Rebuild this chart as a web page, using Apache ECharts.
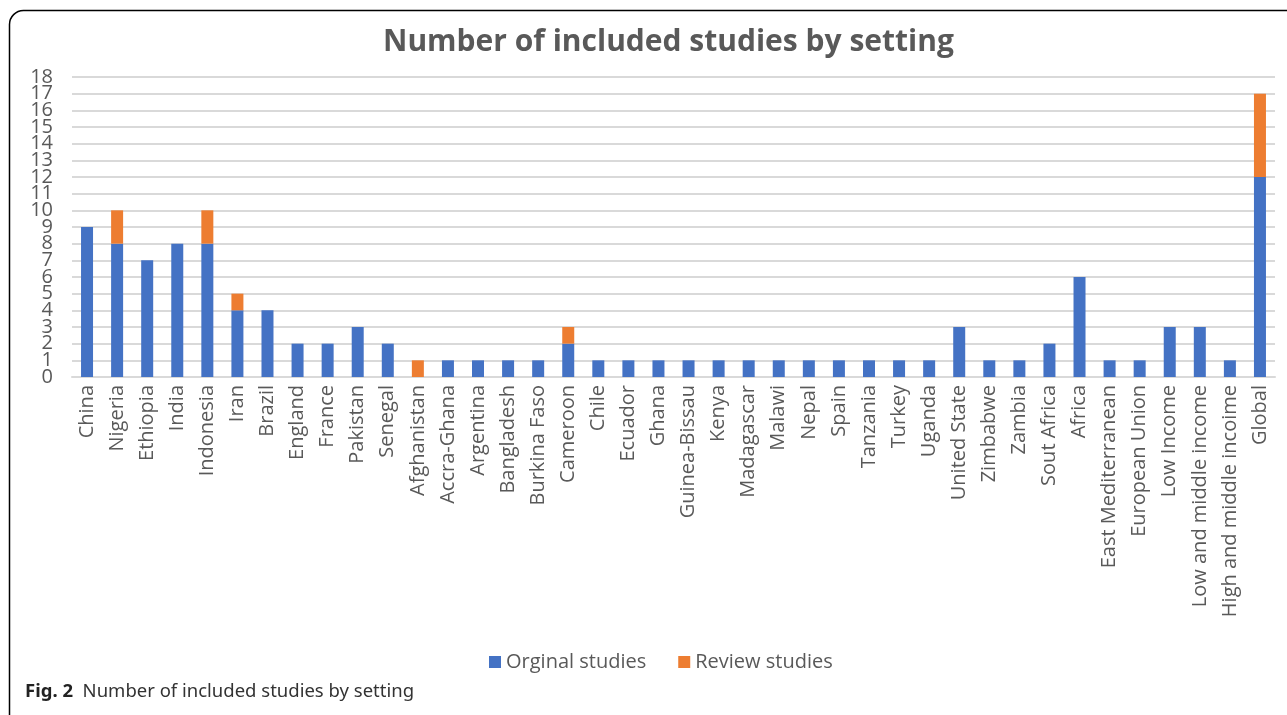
<!DOCTYPE html>
<html>
<head>
<meta charset="utf-8">
<script src="https://cdn.jsdelivr.net/npm/echarts@6/dist/echarts.min.js"></script>
<style>
  html, body { margin: 0; padding: 0; background: #fff; }
  #chart { width: 1287px; height: 715px; }
</style>
</head>
<body>
<div id="chart"></div>
<script>
// ============================================================================
// Data
// ============================================================================

const settings = [
    'China', 'Nigeria', 'Ethiopia', 'India', 'Indonesia', 'Iran', 'Brazil', 'England',
    'France', 'Pakistan', 'Senegal', 'Afghanistan', 'Accra-Ghana', 'Argentina',
    'Bangladesh', 'Burkina Faso', 'Cameroon', 'Chile', 'Ecuador', 'Ghana',
    'Guinea-Bissau', 'Kenya', 'Madagascar', 'Malawi', 'Nepal', 'Spain', 'Tanzania',
    'Turkey', 'Uganda', 'United State', 'Zimbabwe', 'Zambia', 'Sout Africa', 'Africa',
    'East Mediterranean', 'European Union', 'Low Income', 'Low and middle income',
    'High and middle incoime', 'Global'
]
const originalStudies = [
    9, 8, 7, 8, 8, 4, 4, 2, 2, 3, 2, 0, 1, 1, 1, 1, 2, 1, 1, 1,
    1, 1, 1, 1, 1, 1, 1, 1, 1, 3, 1, 1, 2, 6, 1, 1, 3, 3, 1, 12
]
const reviewStudies = [
    0, 2, 0, 0, 2, 1, 0, 0, 0, 0, 0, 1, 0, 0, 0, 0, 1, 0, 0, 0,
    0, 0, 0, 0, 0, 0, 0, 0, 0, 0, 0, 0, 0, 0, 0, 0, 0, 0, 0, 5
]

// ============================================================================
// Chart
// ============================================================================

const textColor = '#595959'
const fontFamily = '"Open Sans", "Noto Sans", sans-serif'

// labels are packed tighter than their height, so even and odd ticks
// go on two stacked axes to stop echarts from hiding the overlapping ones
function _valueAxis(parity, showSplit) {
    return {
        type: 'value',
        min: 0,
        max: 18,
        interval: 1,
        position: 'left',
        axisLine: {show: false},
        axisTick: {show: false},
        splitLine: {show: showSplit, lineStyle: {color: '#d9d9d9', width: 2}},
        axisLabel: {
            margin: 19,
            fontSize: 20,
            color: textColor,
            fontFamily: fontFamily,
            showMinLabel: true,
            showMaxLabel: true,
            formatter: v => (v % 2 === parity ? String(v) : '')
        }
    }
}

var chart = echarts.init(document.getElementById('chart'))
var option = {
    animation: false,
    textStyle: {fontFamily: fontFamily},
    title: {
        text: 'Number of included studies by setting',
        left: 378,
        top: 22,
        textStyle: {fontSize: 30, fontWeight: 'bold', color: textColor, fontFamily: fontFamily}
    },
    legend: {
        data: ['Orginal studies', 'Review studies'],
        bottom: 38,
        left: 484,
        itemWidth: 12,
        itemHeight: 12,
        itemGap: 32,
        icon: 'rect',
        textStyle: {fontSize: 20, color: textColor, fontFamily: fontFamily}
    },
    grid: {
        left: 72,
        right: 12,
        top: 77,
        height: 300,
        containLabel: false
    },
    xAxis: [{
        type: 'category',
        data: settings,
        axisTick: {show: false},
        axisLine: {lineStyle: {color: '#d9d9d9', width: 2}},
        axisLabel: {
            rotate: 90,
            interval: 0,
            margin: 8,
            fontSize: 20,
            color: textColor,
            fontFamily: fontFamily
        }
    }],
    yAxis: [_valueAxis(0, true), _valueAxis(1, false)],
    series: [
        {
            name: 'Orginal studies',
            type: 'bar',
            stack: 'total',
            barWidth: 12,
            itemStyle: {color: '#4472c4'},
            data: originalStudies
        },
        {
            name: 'Review studies',
            type: 'bar',
            stack: 'total',
            barWidth: 12,
            itemStyle: {color: '#ed7d31'},
            data: reviewStudies
        }
    ],
    graphic: [
        {
            type: 'rect',
            shape: {x: 9.5, y: 10.5, width: 1300, height: 730, r: 14},
            style: {fill: 'none', stroke: '#000', lineWidth: 1.5},
            silent: true
        },
        {
            type: 'text',
            left: 25,
            top: 682,
            style: {
                text: '{b|Fig. 2}  Number of included studies by setting',
                rich: {
                    b: {fontWeight: 'bold', fontSize: 18.5, fill: '#222', fontFamily: '"Noto Sans", sans-serif'}
                },
                fontSize: 18.5,
                fill: '#333',
                fontFamily: '"Noto Sans", sans-serif'
            }
        }
    ]
}
chart.setOption(option)
</script>
</body>
</html>
